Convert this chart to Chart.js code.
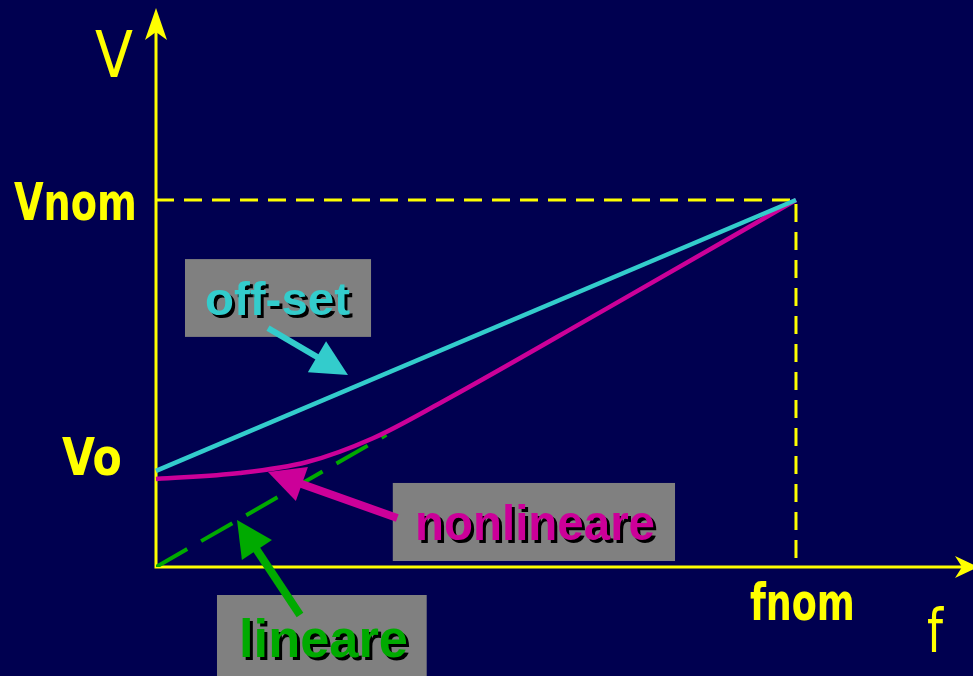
<!DOCTYPE html>
<html>
<head>
<meta charset="utf-8">
<title>V/f</title>
<script src="https://cdn.jsdelivr.net/npm/chart.js@4.4.1/dist/chart.umd.min.js"></script>
<style>
  html, body { margin: 0; padding: 0; background: #000050; }
  #wrap { width: 973px; height: 676px; }
</style>
</head>
<body>
<div id="wrap"><canvas id="mycanvas" width="973" height="676"></canvas></div>
<script>
// values in units of fnom / Vnom
var Vo = 0.262;
var offsetF = [0, 1];
var offsetV = [Vo, 1];
var nonlinF = [0, 0.131, 0.236, 0.339, 0.444, 0.70, 1];
var nonlinV = [0.240, 0.256, 0.286, 0.351, 0.447, 0.70, 1];
var linearF = [0, 0.36];
var linearV = [0, 0.36];
var guideF = [0, 1, 1];
var guideV = [1, 1, 0];
var axisMaxF = 1.2766;
var axisMaxV = 1.5232;

var chartColors = {
    bg: '#000050',
    yellow: '#ffff00',
    cyan: '#33cccc',
    magenta: '#cc0099',
    green: '#00aa00',
    grey: '#808080'
};

var FONT = '"Liberation Sans", Arial, sans-serif';
var AXIS_FONT = '"DejaVu Sans", Verdana, sans-serif';

// axis labels: text, left/baseline in data units, size, bold, ink width
var axisLabels = [
    { text: 'V', f: -0.0953, v: 1.335, size: 64, bold: false, width: 38 },
    { text: 'Vnom', f: -0.222, v: 0.9455, size: 52, bold: true, width: 123 },
    { text: 'Vo', f: -0.147, v: 0.2507, size: 52, bold: true, width: 60 },
    { text: 'fnom', f: 0.928, v: -0.1444, size: 51, bold: true, width: 105 },
    { text: 'f', f: 1.2047, v: -0.2316, size: 60, bold: false, width: 16 }
];

// callout boxes + arrows
var callouts = [
    { text: 'off-set', color: chartColors.cyan, box: [0.0453, 0.839, 0.336, 0.627],
      tf: 0.0766, tv: 0.6866, size: 46, width: 145,
      arrow: [0.175, 0.651, 0.30, 0.523], shaft: 6 },
    { text: 'nonlineare', color: chartColors.magenta, box: [0.370, 0.229, 0.811, 0.0163],
      tf: 0.4047, tv: 0.0736, size: 50, width: 240,
      arrow: [0.377, 0.1335, 0.175, 0.259], shaft: 8 },
    { text: 'lineare', color: chartColors.green, box: [0.0953, -0.0763, 0.423, -0.335],
      tf: 0.1297, tv: -0.245, size: 54, width: 169,
      arrow: [0.225, -0.131, 0.1266, 0.128], shaft: 8 }
];

function toPoints(xs, ys) {
    var pts = [];
    for (var i in xs) {
        pts.push({ x: xs[i], y: ys[i] });
    }
    return pts;
}

function drawText(ctx, t, x, y, color, shadow, family) {
    ctx.save();
    ctx.font = (t.bold ? 'bold ' : '') + t.size + 'px ' + family;
    ctx.textBaseline = 'alphabetic';
    ctx.textAlign = 'left';
    var w = ctx.measureText(t.text).width;
    var k = t.width / w;
    ctx.translate(x, y);
    ctx.scale(k, 1);
    if (shadow) {
        ctx.fillStyle = '#000000';
        ctx.fillText(t.text, 3 / k, 3);
    }
    ctx.fillStyle = color;
    ctx.fillText(t.text, 0, 0);
    ctx.restore();
}

function drawArrow(ctx, x1, y1, x2, y2, color, shaft) {
    var dx = x2 - x1, dy = y2 - y1;
    var len = Math.sqrt(dx * dx + dy * dy);
    var ux = dx / len, uy = dy / len;
    var headLen = 36, half = 18;
    var bx = x2 - ux * headLen, by = y2 - uy * headLen;
    ctx.save();
    ctx.strokeStyle = color;
    ctx.fillStyle = color;
    ctx.lineWidth = shaft;
    ctx.beginPath();
    ctx.moveTo(x1, y1);
    ctx.lineTo(bx + ux * 4, by + uy * 4);
    ctx.stroke();
    ctx.beginPath();
    ctx.moveTo(x2, y2);
    ctx.lineTo(bx - uy * half, by + ux * half);
    ctx.lineTo(bx + uy * half, by - ux * half);
    ctx.closePath();
    ctx.fill();
    ctx.restore();
}

var background = {
    id: 'background',
    beforeDraw: function (chart) {
        var ctx = chart.ctx;
        ctx.save();
        ctx.fillStyle = chartColors.bg;
        ctx.fillRect(0, 0, chart.width, chart.height);
        ctx.restore();
    }
};

var axesPlugin = {
    id: 'axesArrows',
    beforeDatasetsDraw: function (chart) {
        var ctx = chart.ctx;
        var xs = chart.scales.x, ys = chart.scales.y;
        var x0 = xs.getPixelForValue(0), y0 = ys.getPixelForValue(0);
        var right = chart.width + 5, top = ys.getPixelForValue(axisMaxV);
        ctx.save();
        ctx.strokeStyle = chartColors.yellow;
        ctx.fillStyle = chartColors.yellow;
        ctx.lineWidth = 3;
        ctx.beginPath();
        ctx.moveTo(x0, y0 + 1.5);
        ctx.lineTo(x0, top + 20);
        ctx.moveTo(x0 - 1.5, y0);
        ctx.lineTo(right - 15, y0);
        ctx.stroke();
        // y arrow head
        ctx.beginPath();
        ctx.moveTo(x0, top);
        ctx.lineTo(x0 + 11, top + 32);
        ctx.lineTo(x0, top + 24);
        ctx.lineTo(x0 - 11, top + 32);
        ctx.closePath();
        ctx.fill();
        // x arrow head
        ctx.beginPath();
        ctx.moveTo(right, y0);
        ctx.lineTo(right - 23, y0 - 11);
        ctx.lineTo(right - 16, y0);
        ctx.lineTo(right - 23, y0 + 11);
        ctx.closePath();
        ctx.fill();
        ctx.restore();
    },
    afterDraw: function (chart) {
        var ctx = chart.ctx;
        var xs = chart.scales.x, ys = chart.scales.y;
        for (var i in axisLabels) {
            var t = axisLabels[i];
            drawText(ctx, t, xs.getPixelForValue(t.f), ys.getPixelForValue(t.v), chartColors.yellow, false, AXIS_FONT);
        }
        for (var j in callouts) {
            var c = callouts[j];
            var bx1 = xs.getPixelForValue(c.box[0]), by1 = ys.getPixelForValue(c.box[1]);
            var bx2 = xs.getPixelForValue(c.box[2]), by2 = ys.getPixelForValue(c.box[3]);
            ctx.save();
            ctx.fillStyle = chartColors.grey;
            ctx.fillRect(bx1, by1, bx2 - bx1, by2 - by1);
            ctx.restore();
            drawArrow(ctx,
                xs.getPixelForValue(c.arrow[0]), ys.getPixelForValue(c.arrow[1]),
                xs.getPixelForValue(c.arrow[2]), ys.getPixelForValue(c.arrow[3]),
                c.color, c.shaft);
            drawText(ctx, { text: c.text, size: c.size, bold: true, width: c.width },
                xs.getPixelForValue(c.tf), ys.getPixelForValue(c.tv), c.color, true, FONT);
        }
    }
};

var chartdata = {
    datasets: [
        {
            label: 'off-set',
            data: toPoints(offsetF, offsetV),
            showLine: true,
            borderColor: chartColors.cyan,
            borderWidth: 4.5,
            pointRadius: 0,
            clip: false
        },
        {
            label: 'nonlineare',
            data: toPoints(nonlinF, nonlinV),
            showLine: true,
            cubicInterpolationMode: 'monotone',
            borderColor: chartColors.magenta,
            borderWidth: 4.5,
            pointRadius: 0,
            clip: false
        },
        {
            label: 'lineare',
            data: toPoints(linearF, linearV),
            showLine: true,
            borderColor: chartColors.green,
            borderDash: [36, 16],
            borderWidth: 4,
            pointRadius: 0
        },
        {
            label: 'nom',
            data: toPoints(guideF, guideV),
            showLine: true,
            borderColor: chartColors.yellow,
            borderDash: [18, 10],
            borderWidth: 3,
            pointRadius: 0
        }
    ]
};

var ctx = document.getElementById('mycanvas');
var chart = new Chart(ctx, {
    type: 'scatter',
    data: chartdata,
    plugins: [background, axesPlugin],
    options: {
        responsive: false,
        animation: false,
        layout: { padding: { left: 156, right: 0, top: 8, bottom: 109 } },
        plugins: {
            legend: { display: false },
            tooltip: { enabled: false }
        },
        scales: {
            x: { type: 'linear', display: false, min: 0, max: axisMaxF },
            y: { type: 'linear', display: false, min: 0, max: axisMaxV }
        }
    }
});
</script>
</body>
</html>
